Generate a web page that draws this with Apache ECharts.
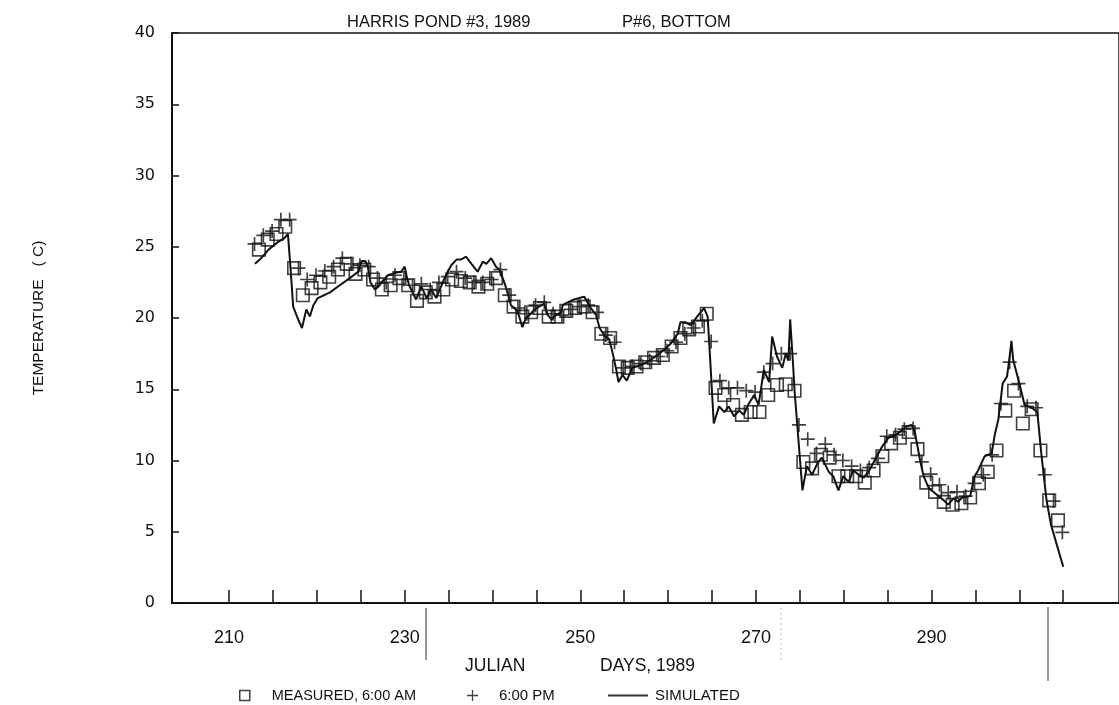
<!DOCTYPE html>
<html>
<head>
<meta charset="utf-8">
<script src="https://cdn.jsdelivr.net/npm/echarts@6/dist/echarts.min.js"></script>
<style>
html,body{margin:0;padding:0;background:#fff;}
#chart{width:1119px;height:705px;}
</style>
</head>
<body>
<div id="chart"></div>
<script>
// ---- data ----
const amDays = [213,214,215,216,217,218,219,220,221,222,223,224,225,226,227,228,229,230,231,232,233,234,235,236,237,238,239,240,241,242,243,244,245,246,247,248,249,250,251,252,253,254,255,256,257,258,259,260,261,262,263,264,265,266,267,268,269,270,271,272,273,274,275,276,277,278,279,280,281,282,283,284,285,286,287,288,289,290,291,292,293,294,295,296,297,298,299,300,301,302,303,304];
const amTemps = [24.8,25.5,25.9,26.4,23.5,21.6,22.1,22.5,22.9,23.4,23.8,23.1,23.4,22.7,22.0,22.3,22.8,22.3,21.2,21.8,21.5,22.0,22.7,22.6,22.5,22.2,22.4,22.8,21.6,20.8,20.1,20.4,20.7,20.1,20.1,20.5,20.7,20.8,20.4,18.9,18.6,16.6,16.5,16.6,16.9,17.2,17.4,18.0,18.6,19.2,19.4,20.3,15.1,14.6,13.9,13.2,13.4,13.4,14.6,15.3,15.35,14.9,9.9,9.45,10.4,10.2,8.9,8.9,8.9,8.45,9.3,10.3,11.2,11.6,12.0,10.8,8.45,7.8,7.1,6.9,7.0,7.4,8.4,9.2,10.7,13.5,14.9,12.6,13.6,10.7,7.2,5.8];
const pmDays = [212,213,214,215,216,217,218,219,220,221,222,223,224,225,226,227,228,229,230,231,232,233,234,235,236,237,238,239,240,241,242,243,244,245,246,247,248,249,250,251,252,253,254,255,256,257,258,259,260,261,262,263,264,265,266,267,268,269,270,271,272,273,274,275,276,277,278,279,280,281,282,283,284,285,286,287,288,289,290,291,292,293,294,295,296,297,298,299,300,301,302,303,304];
const pmTemps = [25.2,25.8,26.1,26.9,26.9,23.5,22.7,23.0,23.3,23.6,24.2,23.8,23.7,23.6,22.8,22.5,23.0,22.7,22.3,22.4,22.0,22.5,22.9,23.25,22.8,22.5,22.5,22.7,23.4,21.6,20.7,20.3,20.9,21.1,20.3,20.2,20.6,20.8,20.9,20.4,18.8,18.3,16.5,16.6,16.8,17.0,17.3,17.7,18.3,18.9,19.3,19.8,18.35,15.6,15.1,15.1,14.9,14.8,16.2,16.8,17.5,17.5,12.5,11.5,10.5,11.15,10.4,10.0,9.6,9.3,9.5,10.15,11.7,11.8,12.2,12.25,9.9,9.05,8.3,7.75,7.8,7.5,8.4,9.0,10.4,14.0,16.9,15.4,13.8,13.7,9.0,7.15,4.96];
const simDays = [212.95,213.5,214.5,215.5,216.3,216.7,217.0,217.3,217.8,218.3,218.8,219.2,219.6,220.1,221.5,222.6,223.75,224.7,225.1,225.5,225.8,226.1,226.6,227.0,227.5,228.1,229.1,229.6,230.0,230.2,230.5,230.9,231.3,231.9,232.5,233.0,233.6,234.2,234.7,235.3,235.9,236.4,237.0,237.6,238.3,238.9,239.3,239.85,240.4,240.8,241.4,241.75,242.1,242.5,242.9,243.4,243.8,244.2,244.8,245.3,245.9,246.3,246.7,247.2,247.8,248.0,248.55,249.3,249.9,250.45,251.2,251.8,252.2,252.7,253.3,253.7,254.1,254.35,254.8,255.3,255.9,256.9,258.0,259.2,260.3,261.1,261.4,262.0,262.55,262.9,263.3,263.7,264.1,264.5,264.8,265.2,265.8,266.4,266.9,267.5,268.1,268.6,269.2,269.8,270.3,270.9,271.5,271.85,272.4,273.0,273.4,273.7,273.9,274.2,274.4,274.9,275.3,275.8,276.4,277.0,277.5,278.3,278.8,279.4,279.95,280.55,281.1,281.7,282.3,283.0,283.6,284.3,285.1,285.9,286.6,287.2,287.75,288.1,288.7,289.1,289.7,290.4,291.4,291.9,292.5,293.0,293.5,294.4,294.9,295.3,296.05,296.85,297.2,297.6,298.1,298.6,298.9,299.1,299.3,299.9,300.6,301.4,302.05,302.5,303.1,303.6,305.0];
const simTemps = [23.8,24.1,24.8,25.3,25.6,25.9,23.5,20.8,20.0,19.3,20.6,20.1,20.9,21.4,21.8,22.3,22.8,23.25,24.0,24.0,23.6,22.5,22.0,22.2,22.6,23.0,23.2,23.25,23.6,23.0,22.3,21.8,21.3,22.2,21.4,22.0,21.4,22.3,23.0,23.7,24.1,24.1,24.3,23.8,23.25,23.95,23.8,24.2,23.6,23.4,22.4,21.7,20.9,20.7,20.4,19.35,20.0,20.2,20.6,20.8,21.0,20.2,19.9,20.2,20.4,20.9,21.1,21.3,21.4,21.5,20.7,20.2,19.3,18.8,18.5,17.5,16.35,15.5,16.0,15.6,16.5,16.7,17.05,17.6,18.2,18.9,19.7,19.7,19.5,19.75,20.1,20.4,20.7,20.1,17.0,12.6,13.8,13.4,13.8,13.1,13.5,13.2,14.0,14.6,13.9,16.35,15.5,18.7,17.3,16.5,17.5,17.0,19.9,17.05,14.9,11.0,7.9,9.6,9.0,9.8,10.2,9.2,8.9,7.9,8.9,8.5,9.3,9.0,8.8,9.4,10.1,10.9,11.6,11.8,12.1,12.4,12.5,12.0,10.0,8.9,8.05,7.7,7.2,6.9,7.35,7.1,7.4,7.5,8.9,9.3,10.3,10.5,11.8,12.85,15.4,15.9,17.3,18.4,17.05,15.65,13.9,13.7,13.4,10.5,7.2,5.5,2.55];
const xLabelValues = [210,230,250,270,290];
const xTickValues = [210,215,220,225,230,235,240,245,250,255,260,265,270,275,280,285,290,295,300,305];
const AM_SHIFT = 0.4, PM_SHIFT = 0.9;

const FONT = "'Liberation Sans Narrow','Liberation Sans',Arial,sans-serif";
const NUMFONT = "'DejaVu Sans',sans-serif";

const amData = amDays.map((d,i)=>[d+AM_SHIFT, amTemps[i]]);
const pmData = pmDays.map((d,i)=>[d+PM_SHIFT, pmTemps[i]]);
const simData = simDays.map((d,i)=>[d, simTemps[i]]);

const PLUS = 'path://M4.4,0 L5.6,0 L5.6,4.4 L10,4.4 L10,5.6 L5.6,5.6 L5.6,10 L4.4,10 L4.4,5.6 L0,5.6 L0,4.4 L4.4,4.4 Z';

const chart = echarts.init(document.getElementById('chart'), null, {renderer:'canvas'});
chart.setOption({
  backgroundColor:'#fff',
  animation:false,
  title:[
    {text:'HARRIS POND #3, 1989', left:342, top:9, textStyle:{fontFamily:FONT, fontSize:16.5, fontWeight:'normal', color:'#111'}},
    {text:'P#6, BOTTOM', left:617, top:9, textStyle:{fontFamily:FONT, fontSize:16.5, fontWeight:'normal', color:'#111'}},
    {text:'JULIAN', left:460, top:652, textStyle:{fontFamily:FONT, fontSize:17.5, fontWeight:'normal', color:'#111'}},
    {text:'DAYS, 1989', left:595, top:652, textStyle:{fontFamily:FONT, fontSize:17.5, fontWeight:'normal', color:'#111'}}
  ],
  legend:[
    {data:[{name:'MEASURED, 6:00 AM', icon:'rect', itemStyle:{color:'transparent', borderColor:'#111', borderWidth:1.5}}],
     left:234, top:683, itemWidth:10, itemHeight:10, textStyle:{fontFamily:FONT, fontSize:14.5, color:'#111', padding:[0,0,0,17]}},
    {data:[{name:'6:00 PM', icon:PLUS, itemStyle:{color:'#111'}}],
     left:462, top:683, itemWidth:11, itemHeight:11, textStyle:{fontFamily:FONT, fontSize:15, color:'#111', padding:[0,0,0,16]}},
    {data:[{name:'SIMULATED', icon:'path://M0,4 L40,4 L40,6 L0,6 Z', itemStyle:{color:'#333'}}],
     left:603, top:683, itemWidth:40, itemHeight:10, textStyle:{fontFamily:FONT, fontSize:15, color:'#111', padding:[0,0,0,2]}}
  ],
  grid:{left:172, right:-2, top:33, bottom:102, show:true, borderColor:'#111', borderWidth:1.5, backgroundColor:'transparent'},
  xAxis:{
    type:'value', min:203.5, max:311.35,
    axisLine:{show:true, lineStyle:{color:'#111', width:2}},
    axisTick:{show:true, inside:true, length:13, customValues:xTickValues, lineStyle:{color:'#111', width:1.5}},
    axisLabel:{customValues:xLabelValues, margin:26, fontFamily:FONT, fontSize:18, color:'#111'},
    splitLine:{show:false}
  },
  yAxis:{
    type:'value', min:0, max:40, interval:5,
    name:'TEMPERATURE   ( C)', nameLocation:'middle', nameGap:125, nameRotate:90,
    nameTextStyle:{fontFamily:FONT, fontSize:15.5, color:'#111'},
    axisLine:{show:true, lineStyle:{color:'#111', width:2}},
    axisTick:{show:true, inside:true, length:7, lineStyle:{color:'#111', width:1.5}},
    axisLabel:{margin:17, fontFamily:NUMFONT, fontSize:16, color:'#111'},
    splitLine:{show:false}
  },
  series:[
    {name:'SIMULATED', type:'line', data:simData, showSymbol:false, symbol:'none', smooth:false,
     lineStyle:{color:'#111', width:2}, z:2},
    {name:'MEASURED, 6:00 AM', type:'scatter', data:amData, symbol:'rect', symbolSize:12.5,
     itemStyle:{color:'transparent', borderColor:'#111', borderWidth:1.6}, z:3},
    {name:'6:00 PM', type:'scatter', data:pmData, symbol:PLUS, symbolSize:14,
     itemStyle:{color:'#111'}, z:4}
  ],
  graphic:[
    {type:'line', shape:{x1:426, y1:608, x2:426, y2:660}, style:{stroke:'#333', lineWidth:1}},
    {type:'line', shape:{x1:1048, y1:607, x2:1048, y2:681}, style:{stroke:'#333', lineWidth:1}},
    {type:'line', shape:{x1:781, y1:608, x2:781, y2:660}, style:{stroke:'#bbb', lineWidth:1, lineDash:[2,3]}}
  ]
});
</script>
</body>
</html>
